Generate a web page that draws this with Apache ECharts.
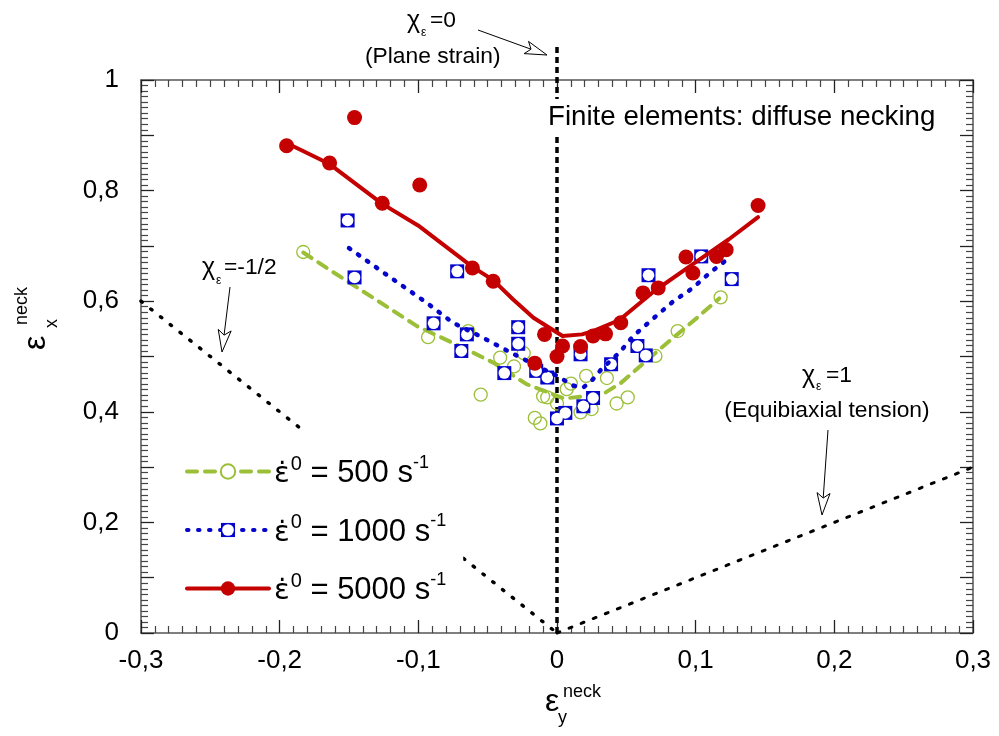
<!DOCTYPE html>
<html>
<head>
<meta charset="utf-8">
<script src="https://cdn.jsdelivr.net/npm/echarts@6/dist/echarts.min.js"></script>
<style>
html,body{margin:0;padding:0;background:#fff;}
#chart{width:999px;height:736px;}
</style>
</head>
<body>
<div id="chart"></div>
<script>
const FONT = '"Liberation Sans", Arial, Helvetica, sans-serif';
const GREEN = '#9cbf38';
const BLUE = '#0505cc';
const RED = '#c40000';

// Strain-rate series names (s^-1)
const rates = ['500', '1000', '5000'];

// Tick labels (decimal comma)
const xTickLabels = ['-0,3', '-0,2', '-0,1', '0', '0,1', '0,2', '0,3'];
const yTickLabels = ['0', '0,2', '0,4', '0,6', '0,8', '1'];

// Finite-element necking strains [eps_y, eps_x], 500 s^-1
const pts500 = [
  [-0.183, 0.689], [-0.093, 0.535], [-0.064, 0.546], [-0.055, 0.431], [-0.041, 0.498],
  [-0.031, 0.482], [-0.024, 0.506], [-0.010, 0.428], [-0.007, 0.426], [0.000, 0.415],
  [-0.016, 0.389], [-0.012, 0.379], [0.007, 0.441], [0.010, 0.451], [0.021, 0.465],
  [0.036, 0.461], [0.017, 0.399], [0.025, 0.405], [0.043, 0.415], [0.051, 0.426],
  [0.071, 0.501], [0.087, 0.546], [0.118, 0.607]
];
// 1000 s^-1
const pts1000 = [
  [-0.151, 0.746], [-0.146, 0.643], [-0.072, 0.654], [-0.089, 0.560], [-0.065, 0.540],
  [-0.069, 0.510], [-0.028, 0.553], [-0.028, 0.523], [-0.038, 0.470], [-0.015, 0.474],
  [-0.007, 0.462], [0.000, 0.388], [0.006, 0.398], [0.017, 0.504], [0.019, 0.410],
  [0.026, 0.425], [0.039, 0.486], [0.058, 0.519], [0.064, 0.502], [0.066, 0.647],
  [0.104, 0.681], [0.126, 0.640]
];
// 5000 s^-1
const pts5000 = [
  [-0.195, 0.881], [-0.146, 0.932], [-0.164, 0.850], [-0.126, 0.777], [-0.099, 0.810],
  [-0.061, 0.660], [-0.046, 0.636], [-0.009, 0.540], [0.004, 0.519], [0.000, 0.500],
  [-0.016, 0.488], [0.017, 0.518], [0.026, 0.537], [0.035, 0.541], [0.046, 0.561],
  [0.062, 0.615], [0.073, 0.624], [0.093, 0.680], [0.098, 0.651], [0.115, 0.681],
  [0.122, 0.693], [0.145, 0.773]
];

// Trend curves through each data set
const fit500 = [
  [-0.183, 0.688], [-0.166, 0.660], [-0.140, 0.618], [-0.101, 0.555], [-0.072, 0.521],
  [-0.046, 0.489], [-0.022, 0.450], [0.005, 0.424], [0.020, 0.428], [0.035, 0.435],
  [0.046, 0.452], [0.074, 0.513], [0.101, 0.570], [0.117, 0.605]
];
const fit1000 = [
  [-0.150, 0.696], [-0.123, 0.648], [-0.095, 0.599], [-0.075, 0.561], [-0.055, 0.536],
  [-0.034, 0.508], [-0.017, 0.486], [0.000, 0.465], [0.012, 0.447], [0.019, 0.444],
  [0.026, 0.459], [0.032, 0.477], [0.045, 0.507], [0.055, 0.537], [0.070, 0.570],
  [0.084, 0.600], [0.098, 0.624], [0.110, 0.651], [0.124, 0.678]
];
const fit5000 = [
  [-0.195, 0.886], [-0.164, 0.848], [-0.126, 0.776], [-0.099, 0.735], [-0.061, 0.662],
  [-0.046, 0.638], [-0.032, 0.604], [-0.017, 0.570], [0.004, 0.537], [0.018, 0.540],
  [0.026, 0.546], [0.045, 0.566], [0.070, 0.618], [0.098, 0.667], [0.124, 0.712],
  [0.145, 0.752]
];

// Strain-path reference lines: chi = eps_y / eps_x
const chiZero = [[0, 0], [0, 1.06]];
const chiHalf = [[-0.3, 0.6], [0, 0]];
const chiOne = [[0, 0], [0.3, 0.3]];

const squareIcon = 'image://data:image/svg+xml;charset=utf-8,' + encodeURIComponent(
  '<svg xmlns="http://www.w3.org/2000/svg" width="30" height="30" viewBox="0 0 30 30">' +
  '<rect width="30" height="30" fill="' + BLUE + '"/><circle cx="15" cy="15" r="12.2" fill="#fff"/></svg>');

function tickLabel(list, start, step) {
  return function (v) {
    const k = (v - start) / step;
    const i = Math.round(k);
    return Math.abs(k - i) < 1e-6 && list[i] !== undefined ? list[i] : '';
  };
}

function axis(extra) {
  return Object.assign({
    type: 'value',
    interval: 0.1,
    axisLine: { show: true, onZero: false, lineStyle: { color: '#555', width: 1.5 } },
    axisTick: { show: true, inside: true, length: 13, lineStyle: { color: '#222', width: 1.3 } },
    minorTick: { show: true, splitNumber: 10, length: 7, lineStyle: { color: '#444', width: 1.2 } },
    splitLine: { show: false },
    minorSplitLine: { show: false }
  }, extra);
}

const labelStyle = { fontFamily: FONT, fontSize: 26, color: '#000' };

function refLine(data, width, dash, cap) {
  return {
    type: 'line', data: data, silent: true, clip: false, symbol: 'none', z: 1,
    lineStyle: { color: '#000', width: width, type: dash, cap: cap }
  };
}

function fitLine(name, data, color, width, dash, symbol, itemStyle, z) {
  return {
    type: 'line', name: name, data: data, showSymbol: false, symbol: symbol, symbolSize: 14,
    silent: true, z: z,
    lineStyle: { color: color, width: width, type: dash, cap: 'round', join: 'round' },
    itemStyle: itemStyle
  };
}

// Arrow with an open head, drawn in pixel space for the annotations
function arrow(x1, y1, x2, y2) {
  const dx = x2 - x1, dy = y2 - y1, L = Math.hypot(dx, dy);
  const ux = dx / L, uy = dy / L;
  const hl = 22, hw = 6.5;
  const bx = x2 - ux * hl, by = y2 - uy * hl;
  const nx = bx + ux * 5, ny = by + uy * 5;
  return [
    { type: 'polyline', z: 50, shape: { points: [[x1, y1], [nx, ny]] }, style: { stroke: '#000', lineWidth: 1, fill: null } },
    { type: 'polygon', z: 50, shape: { points: [[x2, y2], [bx - uy * hw, by + ux * hw], [nx, ny], [bx + uy * hw, by - ux * hw]] },
      style: { stroke: '#000', lineWidth: 1, fill: '#fff' } }
  ];
}

function txt(text, x, y, size, align, extra) {
  return Object.assign({
    type: 'text', z: 60,
    style: { text: text, x: x, y: y, fontFamily: FONT, fontSize: size, fill: '#000',
      textAlign: align || 'left', textVerticalAlign: 'middle' }
  }, extra || {});
}

const chart = echarts.init(document.getElementById('chart'), null, { renderer: 'canvas' });

const ANN = 22.8;
const graphics = [].concat(
  // x axis title: eps_y^neck
  [txt('\u03b5', 545, 702, 32), txt('neck', 563, 692, 18), txt('y', 558, 718, 18)],
  // y axis title: eps_x^neck (rotated)
  [{
    type: 'group', x: 47, y: 350, rotation: Math.PI / 2,
    children: [txt('\u03b5', 0, -11, 32), txt('neck', 25, -25, 18), txt('x', 22, 5, 18)]
  }],
  // chi = 0 annotation
  [txt('\u03c7', 407, 21, 25), txt('\u03b5', 421, 33, 12), txt('=0', 430, 21, ANN),
   txt('(Plane strain)', 365, 57, ANN)],
  arrow(478, 30, 547, 55),
  // chi = -1/2 annotation
  [txt('\u03c7', 202, 268, 25), txt('\u03b5', 216, 281, 12), txt('=-1/2', 224, 268, ANN)],
  arrow(230, 287, 222, 352),
  // chi = 1 annotation
  [txt('\u03c7', 802, 376, 25), txt('\u03b5', 816, 387, 12), txt('=1', 826, 376, ANN),
   txt('(Equibiaxial tension)', 827, 411, ANN, 'center')],
  arrow(828, 430, 822, 515),
  // panel title with white backing over the plane-strain line
  [{
    type: 'text', z: 60,
    style: { text: 'Finite elements: diffuse necking', x: 546, y: 117, fontFamily: FONT, fontSize: 27.7,
      fill: '#000', textAlign: 'left', textVerticalAlign: 'middle', backgroundColor: '#fff', padding: [4, 2] }
  }]
);

chart.setOption({
  animation: false,
  backgroundColor: '#fff',
  grid: { left: 141, right: 26, top: 80, bottom: 103, containLabel: false, outerBoundsMode: 'none' },
  xAxis: [
    axis({ position: 'bottom', min: -0.3, max: 0.3,
      axisLabel: Object.assign({ margin: 15, formatter: tickLabel(xTickLabels, -0.3, 0.1) }, labelStyle) }),
    axis({ position: 'top', min: -0.3, max: 0.3, axisLabel: { show: false } })
  ],
  yAxis: [
    axis({ position: 'left', min: 0, max: 1,
      axisLabel: Object.assign({ margin: 22, formatter: tickLabel(yTickLabels, 0, 0.2) }, labelStyle) }),
    axis({ position: 'right', min: 0, max: 1, axisLabel: { show: false } })
  ],
  legend: {
    orient: 'vertical',
    left: 168, top: 430,
    padding: [24, 17, 14, 17],
    backgroundColor: '#fff',
    z: 20,
    itemWidth: 82, itemHeight: 18, itemGap: 23.5,
    selectedMode: false,
    lineStyle: { width: 4 },
    data: rates,
    formatter: function (name) {
      return '{e|\u03b5\u0307}{s0|0}{t| = ' + name + ' s}{s1|-1}';
    },
    textStyle: {
      fontFamily: FONT, color: '#000',
      rich: {
        e: { fontFamily: '"DejaVu Sans", sans-serif', fontSize: 29, color: '#000', verticalAlign: 'bottom' },
        s0: { fontFamily: FONT, fontSize: 20, color: '#000', verticalAlign: 'bottom', padding: [0, 0, 15, 1] },
        t: { fontFamily: FONT, fontSize: 31, color: '#000', verticalAlign: 'bottom' },
        s1: { fontFamily: FONT, fontSize: 18, color: '#000', verticalAlign: 'bottom', padding: [0, 0, 17, 0] }
      }
    }
  },
  graphic: graphics,
  series: [
    fitLine('500', fit500, GREEN, 4, [10, 8], 'circle', { color: '#fff', borderColor: GREEN, borderWidth: 1.3 }, 3),
    fitLine('1000', fit1000, BLUE, 4.5, [1.5, 9.5], squareIcon, { color: BLUE }, 6),
    fitLine('5000', fit5000, RED, 4, 'solid', 'circle', { color: RED }, 8),
    refLine(chiZero, 3.5, [6, 4], 'butt'),
    refLine(chiHalf, 3.5, [1.5, 11], 'round'),
    refLine(chiOne, 3, [3, 10], 'round'),
    { type: 'scatter', name: '500', data: pts500, symbol: 'circle', symbolSize: 13, silent: true, z: 2,
      itemStyle: { color: 'rgba(255,255,255,0)', borderColor: GREEN, borderWidth: 1.3, opacity: 1 } },
    { type: 'scatter', name: '1000', data: pts1000, symbol: 'rect', symbolSize: 14, silent: true, z: 4,
      itemStyle: { color: BLUE, opacity: 1 } },
    { type: 'scatter', name: '1000', data: pts1000, symbol: 'circle', symbolSize: 11.5, silent: true, z: 5,
      itemStyle: { color: '#fff', opacity: 1 } },
    { type: 'scatter', name: '5000', data: pts5000, symbol: 'circle', symbolSize: 15, silent: true, z: 7,
      itemStyle: { color: RED, opacity: 1 } }
  ]
});
</script>
</body>
</html>
